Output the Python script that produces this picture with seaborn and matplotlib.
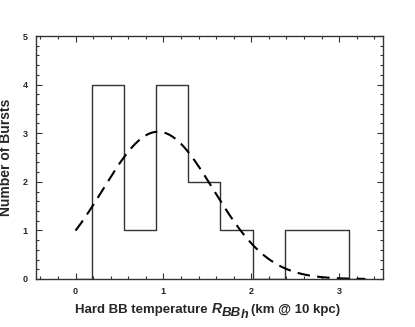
import numpy as np
import pandas as pd
import matplotlib
matplotlib.use("Agg")
import matplotlib.pyplot as plt
import seaborn as sns
from matplotlib.ticker import MultipleLocator

# Histogram data; zero-count bins at both ends
bin_edges = [0.0, 0.19, 0.555, 0.92, 1.285, 1.65, 2.015, 2.38, 2.745, 3.11, 3.2]
bin_centers = [0.095, 0.3725, 0.7375, 1.1025, 1.4675, 1.8325, 2.1975, 2.5625, 2.9275, 3.155]
counts = [0, 4, 1, 4, 2, 1, 0, 1, 1, 0]

# Gaussian fit parameters
gauss_amp = 3.03
gauss_mu = 0.94
gauss_sigma = 0.63
curve_range = [0.0, 3.3]

sns.set_theme(style="ticks")
plt.rcParams['font.family'] = ['Liberation Sans', 'DejaVu Sans']

W, H = 415, 327
fig = plt.figure(figsize=(W / 100, H / 100), dpi=100)
ax = fig.add_axes([36/W, 1 - 279/H, (383-36)/W, (279-36)/H])

df = pd.DataFrame({"x": bin_centers, "w": counts})
sns.histplot(data=df, x="x", weights="w", bins=bin_edges, element="step",
             fill=False, color="#333333", linewidth=1.0, ax=ax)

xc = np.linspace(curve_range[0], curve_range[1], 300)
yc = gauss_amp * np.exp(-(xc - gauss_mu) ** 2 / (2 * gauss_sigma ** 2))
sns.lineplot(x=xc, y=yc, ax=ax, color="black", linewidth=1.5,
             linestyle=(0, (6, 3.5)))

ax.set_xlim(-0.45, 3.5)
ax.set_ylim(0, 5)
ax.xaxis.set_major_locator(MultipleLocator(1))
ax.xaxis.set_minor_locator(MultipleLocator(0.2))
ax.yaxis.set_major_locator(MultipleLocator(1))
ax.yaxis.set_minor_locator(MultipleLocator(0.2))
ax.tick_params(which="both", direction="in", top=True, right=True,
               labelsize=6.5, width=0.8, color="#333333", pad=6)
ax.tick_params(which="major", length=4)
ax.tick_params(which="minor", length=2.5)
for lab in ax.get_xticklabels() + ax.get_yticklabels():
    lab.set_fontweight("bold")
for s in ax.spines.values():
    s.set_linewidth(1.0)
    s.set_color("#333333")

ax.set_xlabel("")
ax.set_ylabel("Number of Bursts", fontsize=10, fontweight="bold")
ax.yaxis.set_label_coords(-(36 - 13) / (383 - 36), 0.5)

# x label built from pieces: main text, italic R, subscripts
pieces = [
    ("Hard BB temperature", 9.5, "normal", 0, 4),
    ("R", 10, "italic", 0, 0),
    ("BB", 9.5, "italic", -3, -0.5),
    ("h", 9, "italic", -5.5, 3),
    ("(km @ 10 kpc)", 9.5, "normal", 0, 0),
]
x0 = 75
baseline = H - 313
fig.canvas.draw()
renderer = fig.canvas.get_renderer()
xpos = x0
for txt, size, style, dy, gap in pieces:
    t = fig.text(xpos / W, (baseline + dy) / H, txt, fontsize=size,
                 fontweight="bold", fontstyle=style, ha="left",
                 va="baseline")
    bb = t.get_window_extent(renderer=renderer)
    xpos = bb.x1 + gap

fig.savefig("out.png", dpi=100)
